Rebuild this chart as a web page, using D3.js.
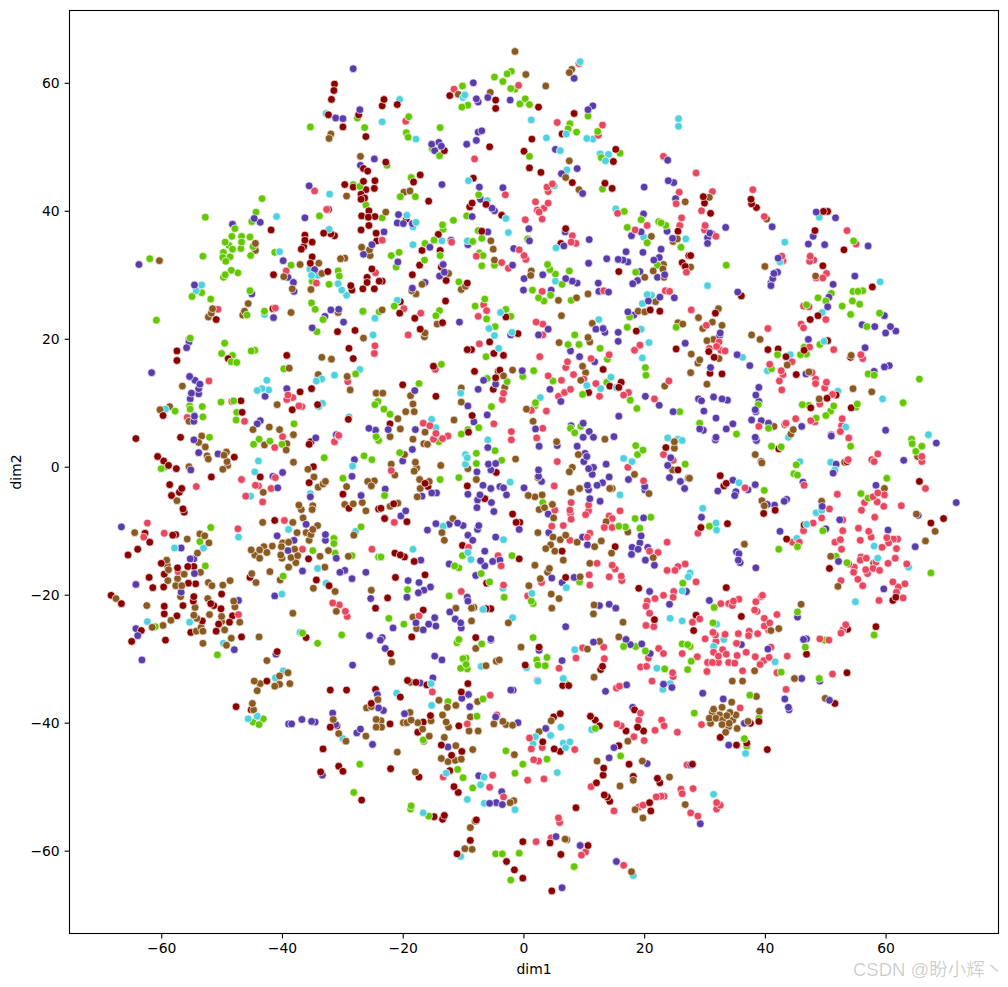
<!DOCTYPE html>
<html><head><meta charset="utf-8">
<script src="https://cdn.jsdelivr.net/npm/d3@7"></script>
<style>html,body{margin:0;padding:0;background:#fff}svg{display:block}</style>
</head><body><div id="chart"></div>
<script>
const xTicks=[-60,-40,-20,0,20,40,60];
const yTicks=[-60,-40,-20,0,20,40,60];
const purple=[[-28.2,62.2],[-27.1,55.8],[-31.1,54.5],[-29.9,54.4],[-24.7,48.1],[-27,47.1],[-35.5,43.9],[-36.2,38.9],[-48.2,37.9],[-44.6,38.8],[-43.6,38.2],[-63.7,31.6],[-39.8,32.2],[-39,29.6],[-38.1,28.8],[-38,27.4],[-54.5,28.4],[-45,27],[-31.9,24.5],[-30.6,24.6],[-41.4,23.3],[-35,21.7],[-29.8,22.6],[-32.9,23.5],[-25.1,34.7],[-26.5,33.2],[-55.4,19.9],[-34.6,30.8],
[-8.3,60],[-7.8,57.5],[-7.5,57],[-5.9,57.7],[-2.2,57.3],[8.4,60.7],[11.5,56.4],[10.7,55.8],[-7.5,52.3],[-6.9,52.5],[-7.8,51],[-9.4,50.4],[-15.2,50.4],[-14,50.7],[-13.6,50.1],[-14.7,49.4],[5.3,49.6],[8.9,46.6],[6.3,45.8],[6.9,45.8],[9.8,42.7],[-13.5,44.1],[-7.3,43.7],[-3.4,43.6],[-7.1,41.8],[-5.2,40.4],[-4.8,40],[-8.5,39.1],[-20.7,39.4],[-20.9,38.1],[-19.9,38],[-18.4,38],[-23.1,36.7],[-5.9,36.7],[.9,37.2],[1,35.3],[-9.2,34.7],[-12,35.4],[-15.5,34.3],[-20.8,32],[-1.6,34.1],[-1.8,31.5],[6.9,36.7],[10.9,35.5],[6.7,34.5],[17,33.6],[10.8,31.8],[13.8,32.5],[15.7,32.4],[16.5,32.3],[17.3,32],[19.8,33.5],[22.8,34],[22.5,32.7],[21.6,32.3],[22.2,29.6],[23.4,30],[19.3,30.5],[18.9,29.1],[18.1,28.6],[19.9,39.5],[20,43.7],[24,44.7],[24.9,44.4],[25.2,41.9],[23.9,47.9],[17.9,36.1],[19.5,36.7],[23.8,36.8],[24.7,35.7],[.1,29.4],[3.2,30],[7,29.4],[8.1,29],[8.9,28.7],[12.4,28.7],[12.5,27.4],[14.1,27.3],[0,27.6],[4.6,27.6],[22.6,26.5],[25,26.4],[20.7,25.9],[17.3,24.2],[18.3,23.7],[-10.6,22.6],[-16.3,28.8],[-13.9,29.8],[-13.1,30.4],[-13.3,31.6],[-18.4,27.9],[13.5,21],[12,21.5],[13.2,21.6],[15.7,21],[-2.1,20.6],[4.1,21.5],[2.5,20.6],
[48.5,39.8],[51.7,38.9],[33.5,37.4],[30.9,36.5],[30.5,35.8],[30.5,34.9],[41.2,37.5],[48,36],[47.2,34.8],[49.9,34.7],[57.1,34.5],[42.2,32.6],[42.1,30.4],[41.5,30.2],[41.3,29.4],[41,28.7],[41,28.3],[35.5,27.3],[54.9,29.8],[51.3,28.5],[50.6,26.5],[50.4,25],[59.8,23.6],[56.1,22.2],[58.2,21.9],[60,20.9],[60.8,21.9],[61.7,21.2],[47.2,19.9],[56.6,18.6],[35.4,17.5],[37.5,15.8],[31,15.5],[32.5,20.5],[32.6,20.9],[46.8,14.5],[58.1,14.9],[59.8,15.6],[60.6,15.8],[39,12.4],[38.5,11.2],[39,10.2],[38.4,8.9],[38.5,8.6],[31.5,10.9],[32.9,10.6],[33.8,10.4],[29.5,10.3],[29,10.6],[29.9,8.7],[31.9,7.6],[33.6,5.9],[34.7,6.7],[37.8,7.3],[39.4,7.2],[40.6,6.8],[46.1,6.3],[29.8,5.7],[29.2,5.9],[31.9,4.6],[38.4,4.6],[51,4.8],[60,5.7],
[-55.8,18.6],[-55.4,19.5],[-61.6,14.7],[-55.3,14.1],[-54.4,13.5],[-53.6,12.9],[-53.8,12.2],[-53.8,11.4],[-55,11.5],[-55.2,10.6],[-54.5,7.9],[-54.6,7.1],[-43.6,7.2],[-44.1,6.7],[-39.2,12.2],[-42.8,11],[-34.4,4.5],[-31,5],[-54.6,4.2],[-53.8,2.2],[-50.6,2],[-55.1,-.5],[-39.9,-.9],[-41.5,-1.5],[-40.7,-3.3],[-35.3,-4.7],[-26.9,-4.5],[-28,1.1],[-28.4,-1.5],[-25.6,6],[-24.5,5.7],[-66.6,-9.4],[-36,-9],[-40.8,-10.8],[-32.8,-10.6],[-32.8,-11.5],[-56.7,-12.7],[-55.2,-14.4],[-54.6,-14.4],[-54.5,-16.7],[-31,-14.3],[-36.6,-16.3],[-30.4,-16.5],[-29.6,-16.2],[-28.4,-17.5],[-26.1,-16.5],[-64.2,-18.4],[-56.7,-19.6],[-47.2,-20.9],[-41.2,-20.2],[-25.3,-20.6],[-64.2,-25.3],[-63.9,-26.4],[-25.5,-26.4],[-38,-11.5],[-39,-13.1],[-63.2,-30.2],
[15.7,19.6],[26.8,19.3],[7.8,18.1],[9.3,17.2],[11.8,16.4],[-.2,15],[-6.6,13.5],[-4.6,12.9],[-7.5,12.1],[-18,11.9],[4.4,12.1],[6.2,10.2],[20.2,11],[22.5,9.6],[24.8,8.6],[15.8,7.9],[-9.2,9.5],[-6,8.1],[-8.2,7],[-22.4,5.8],[-17.9,5.8],[7.9,6.4],[9.9,6.8],[10.9,5.5],[11.6,4.6],[9.9,4.6],[2,5.9],[2.6,3.2],[5.6,3.3],[15,4.7],[8.9,3.2],[-5.9,3],[-18.4,2.7],[-20,.9],[10.2,2.1],[10.5,1.6],[10,.8],[10.8,-.3],[11.6,-.1],[11.4,-1.2],[13.7,.4],[-5.8,.4],[-4.6,.5],[-7.7,-.8],[-5.4,-.5],[2.5,-.5],[2.5,-1.5],[3,-2.3],[14.2,-1.6],[13.1,-2.5],[12.2,-2.9],[10.6,-2.9],[10.8,-3.6],[11,-5],[12.7,-5.4],[17.4,-2],[20.1,-3.1],[20.1,-3.6],[23.9,.2],[24.4,1.4],[24.2,-1.7],[26,-2.3],[26.7,-3.4],[-6.7,-2.9],[-5.4,-3.4],[-3.9,-3.1],[-3.3,-3.3],[-2.8,-4.4],[-9.2,-4.3],[-7.2,-4.4],[-7.6,-5.2],[-7.7,-6.4],[-5.3,-5.6],[-4.9,-7],[.1,-3.3],[-22.9,-3.5],[-16.8,-4.6],[-15.2,-4.1],[-14.4,-4.1],[-19.5,-6.9],[-20.3,-7.7],[-23,-8],[-14.5,-8.9],[-12.3,-9],[-10.9,-8.8],[-10,-9.2],[-15.9,-9.9],[-7.4,-9.2],[-7.6,-9.8],[-9.2,-10.7],[-8.4,-11.5],[-4.6,-11],[-.7,-9.8],[4.1,-7.4],[4.2,-10.3],[9.8,-11],[10.6,-12.2],[19.5,-10.8],[19.3,-11.9],[18,-12.6],[19,-12.9],[17.9,-13.7],[20.6,-12.6],[20.2,-14.6],[21.7,-15.4],[19.9,-8],[-6.4,-13.2],[-7.1,-14.7],[-5.1,-14.8],[-3.9,-14.6],[-6.4,-15.5],[-7.9,-17],[-12.3,-15.2],[-17,-14.6],[-19.1,-17.8],[-17.3,-18.1],[-16.5,-19.3],[-15.4,-18.8],[-17.4,-19.7],[-19.3,-20.4],[-9.3,-20.4],[-9.2,-21],[-12.2,-22.7],[-11.3,-23.8],[-10.4,-24.4],[-10.3,-25.2],[-14.7,-23.6],[-15.7,-24.6],[-14.5,-24.9],[-16.6,-25.5],[-21.6,-25.2],[-17.8,-24.4],[7,-25],[4.7,-17.4],[8.4,-17.3],[6.4,-18.1],[12.6,-21.7],[14.2,-21.5],[15.3,-22.1],[24.2,-21.5],[20.9,-19.5],[27,-19.5],[-5.4,-26.9],[17,-27],[-23.4,-26.7],
[68.4,3.7],[63,1],[51.3,-1],[51.8,.4],[58.4,-2.9],[34.7,-2.1],[32.2,-3.8],[35,-4.5],[35.2,-3.9],[37.2,-3.6],[38.4,-2.8],[40.4,-5.9],[41.6,-6],[43.2,-5.4],[43.6,-5.1],[49.5,-6.2],[52.4,-8.3],[71.7,-5.6],[29.5,-7.9],[42.5,-10.1],[50.1,-9.7],[60.4,-9.9],[64.9,-12.5],[65.4,-7.6],[35.7,-13.6],[35.3,-13.3],[35.6,-14.6],[35.9,-15],[38.5,-15.8],[52.2,-14.8],[59.7,-19.1],[30.8,-20.9],[45.4,-23.5],[46.9,-26.9],[46.4,-27],[36.1,-27.8],[40.5,-28.5],[46.1,-33.1],[49.1,-33.5],[29.7,-35.4],[33.1,-36.3],[43.3,-36.3],[43.9,-37.6],[44,-38],[50.7,-36.5],[36.6,-40.1],[31.8,4.2],[38.6,4.1],[46.3,-2.4],
[-47.9,-28.6],[-22.9,-28.4],[-23.7,-27.1],[-14.7,-29.6],[-13.5,-30.2],[-28.3,-31],[-41,-29.3],[-5.4,-27.1],[-15,-33],[-17.1,-33.8],[-9.1,-35.6],[-10.2,-36.2],[-8.9,-37.5],[-2.1,-34.9],[-38.4,-40.2],[-38.9,-40.2],[-36.7,-39.5],[-35.1,-39.8],[-34.5,-39.9],[-31.6,-38.5],[-31.1,-40.3],[-27,-41],[-27.6,-41.6],[-25,-43.4],[-24.2,-35.6],[-24,-37.7],[-23.2,-38.1],[-19.7,-38.6],[-12.5,-43.8],[-4.6,-39.1],[-7.4,-48.3],[-3.6,-50.8],[-5.6,-52.6],[-4.5,-52.5],[-3.5,-52.8],[-33.3,-48.2],
[6.4,-30.3],[-1.7,-34.9],[13.6,-35.1],[17.1,-34.1],[11.6,-27.4],[17.7,-27.8],[19.6,-27.7],[-.9,-40],[3.7,-40.9],[21,-29.2],[24.6,-34.5],[23.2,-34],[34,-43.5],[15,-43.9],[14.2,-45.5],[18.1,-37.6],[20.5,-46.4],[27.7,-46.6],[29.3,-55.8],[5.4,-57.8],[9.4,-59.2],[15.4,-61.7],[6.4,-65.8],[2.6,-28.7]];
const darkRed=[[-31.3,59.8],[-31.4,58.8],[-31.8,57.4],[-32.3,55],[-27.3,55],[-29.9,53.1],[-26.1,51.6],[-26.5,46.6],[-25.8,46.2],[-29.6,44.1],[-28.2,43.7],[-26.5,44.6],[-24.6,44.7],[-26.1,43.3],[-24.7,43.5],[-26.9,42.6],[-26.9,41.8],[-26.3,42],[-32.3,40.2],[-25.6,40],[-26.8,39.2],[-25.7,39],[-24.6,39.1],[-25.6,37.7],[-26.9,37],[-24.4,36.5],[-24.3,35.3],[-41.8,37],[-36.2,36.2],[-33.1,36.5],[-31.9,36.4],[-31.3,36.1],[-36.2,35.4],[-35,35.1],[-36.4,34.4],[-36.8,34],[-35,32.8],[-35.3,31.8],[-32.4,30.5],[-41.4,30],[-25.1,30.9],[-25.9,29.6],[-25.9,28.8],[-28.6,28.3],[-28.4,27.6],[-26.6,27.8],[-24.7,27.8],[-41.5,24.7],[-50.9,23],[-30.8,21.1],[-27.9,21.3],[-23.9,29],
[-12.2,58],[-4.6,57.3],[-4.6,56],[2.5,56.2],[-23.1,57.4],[-23.4,56.4],[-20.9,56.6],[8.4,55.2],[6.4,52],[1.4,51.2],[-5.6,50],[15.3,49.6],[14.9,47.7],[.1,49.3],[-13.1,49.4],[-22.8,47.6],[1,46.7],[2.9,46],[-17.1,45.6],[-18.2,44.5],[8.1,44.4],[-8.3,45.1],[13.5,44.3],[14.7,43.5],[-15.7,41.5],[-8.5,41.2],[-8.9,40.6],[-6.2,41],[-3.6,39.3],[-19.4,38.7],[7,37.2],[6.2,34.9],[-6.9,36.8],[-14.1,36.3],[-16.8,33.8],[-13.8,33.8],[-17.2,31.5],[-13.6,31.2],[-18.4,30],[-12.8,29.1],[-9.3,28.7],[-23.4,29],[15.8,30.5],[-12.9,25.9],[-20.4,25.8],[-20.5,24],[-18,23.2],[-13.4,22.5],[-17.1,21.5],[-2.9,23.4],[-.9,20.8],[18.7,21.2],[22.6,24.3],[21,24.5],[25.6,36.8],[26.3,31.9],[26.8,31.3],[27.4,33],
[29.8,42.2],[30,41.2],[31,39.6],[37.7,41.8],[37.8,41.1],[38.6,40.5],[49.7,39.9],[50.4,39.9],[48.3,36.9],[53.1,33.9],[31.3,36.3],[27.7,33],[49.6,31.4],[36.1,26.7],[57.8,28.1],[31.8,24],[48.8,23.6],[47.5,23],[40.5,18.3],[42.2,18.4],[43.5,17.2],[46.5,18.2],[50.4,19.7],[54.2,17.1],[30.7,18],[31.6,17.1],[30.9,14.6],[32.9,14.5],[45.2,14.4],[50.3,10.7],[47.6,9.2],[54.3,9.2],[51.8,11.2],
[-57.4,18.1],[-57.4,16.6],[-39.2,17.4],[-48.9,16.9],[-28.9,18.5],[-28.2,16.9],[-37,11.7],[-35.1,12.2],[-46.8,10.3],[-34.1,9.7],[-38.3,8.9],[-46.6,8.5],[-59.7,8],[-29,7.4],[-64.2,4.4],[-56.8,4.6],[-35.2,3.9],[-35.5,3.5],[-60.6,1.6],[-59.6,.9],[-58.8,.2],[-57.5,-.3],[-47.9,1.5],[-34.8,0],[-51.7,-1.6],[-43.6,-1.6],[-35.5,-2.5],[-58.6,-2.8],[-56.6,-3.4],[-57,-4],[-58.3,-4.5],[-56.4,-6.6],[-56.2,-7.1],[-29.9,-4.3],[-28.9,-6.5],[-24,-6.6],[-41.2,-8.4],[-62.7,-10.4],[-61.9,-11.8],[-58.1,-10.7],[-57.6,-10.6],[-63.9,-12.9],[-65.5,-13.8],[-60,-15.1],[-57.3,-15.8],[-59.5,-16.8],[-55.6,-15.6],[-54.6,-15.6],[-62,-17.3],[-61.4,-18.9],[-59.6,-18.8],[-55.5,-18.2],[-54.3,-18.3],[-68.3,-20.1],[-66.6,-21.4],[-50,-19.9],[-54.6,-20.3],[-54.7,-21],[-56.4,-21.7],[-59.5,-21.8],[-59.5,-23],[-57.4,-23.3],[-51.8,-21.4],[-51.3,-21.7],[-50.1,-22.2],[-53.2,-24.1],[-50.5,-24.6],[-48.7,-24.3],[-50.9,-25.7],[-55.1,-25.9],[-63.3,-25.6],[-59.3,-27.1],[-46.7,-26.6],[-48.2,-23.3],[-45.3,-17.3],[-35.6,-14.4],[-34.3,-17.7],[-32.2,-18.6],[-24.5,-22.1],[-36,-26.7],[-64.9,-27.3],
[-9.3,18.3],[-8.6,18.3],[-5.6,19.5],[-4.9,17.7],[-3.3,17.4],[-14.9,15.7],[-8.1,14.9],[-4.6,13.9],[-3.9,15.1],[-5,12.1],[-20,12.8],[-14.5,11],[13.2,15.2],[14.3,12.6],[16.2,13.2],[15.8,12.4],[10.8,11.6],[25.3,18.4],[-8.5,8],[-22.1,6.7],[-9.1,5.4],[23.6,3],[-4.5,-.9],[-9.3,-3],[-15.8,-3.1],[-16.3,-2.6],[-6.4,-5],[-1.8,-7.4],[-1.2,-8.7],[-.6,-8.7],[-21.5,-5.8],[-23.6,-6.5],[-23,-8.1],[-19.3,-8.6],[-10.1,-12.3],[-21.3,-13.5],[-20.4,-13.8],[-19.7,-14.1],[-18.1,-14.8],[-.7,-14.4],[6.4,-13.2],[15.2,-12.5],[-21.2,-17.3],[-16.3,-16.9],[7,-17.3],[19.1,-19],[-22.5,-20.5],[-6.2,-22.2],[-5.4,-22.2],[-16.6,-22.4],[21.7,-23.9],[-18.5,-26.6],[-7.9,-26.7],[-6.1,-18.2],[25.6,-.5],
[42.3,2.8],[39.4,.8],[53.6,.8],[65.6,-2.3],[32.6,-1.4],[33.6,-2.6],[33.2,-3],[41.7,-6.8],[39.8,-7.3],[33.8,-8.9],[29.4,-9.5],[67.5,-8.8],[69.6,-8.1],[46.5,-9.1],[43.6,-11.3],[50.7,-15.9],[33.6,-18.9],[61.7,-20.4],[61.2,-20.9],[36.1,-23.4],[28.6,-23.2],[28.2,-25.6],[53.7,-25.4],[58.4,-25],[46.9,-29.3],[53.6,-32.2],[51.6,-37],[37.6,-40.1],[39,-39.8],[32.6,-42.3],
[-40.8,-28.9],[-22,-29.2],[-42.5,-33.5],[-32,-34.9],[-29.3,-34.9],[-24.5,-34.8],[-20.4,-36],[-19.2,-33.4],[-17.8,-33.7],[-16,-34.1],[-9.2,-33.9],[-10.3,-35.2],[-47.6,-37.5],[-45.1,-38],[-25.2,-37],[-30.9,-40.5],[-32,-40.7],[-22.1,-40.2],[-16.6,-39.9],[-17.5,-41.5],[-15.4,-38.9],[-10.7,-40.5],[-13.6,-43.5],[-10.2,-44.5],[-11.9,-45.1],[-12.2,-47.5],[-33.2,-44.1],[-33.6,-47.7],[-30.6,-46.8],[-29.9,-47.6],[-22,-47.2],[-17.3,-48.5],[-11.5,-50],[-10.8,-50.9],[-26.8,-52.1],[-14.8,-54.7],[-13.4,-55.1],[-13.1,-54.5],[-7.8,-55.2],[-8.8,-58.4],[-11,-60.5],[-2.8,-61.7],
[2.6,-28.2],[.3,-31],[6.5,-34.2],[7.5,-34.2],[13.1,-31.2],[12.8,-31.7],[6.1,-38.6],[5,-39.1],[3.2,-43],[5.1,-44.1],[6.1,-44.5],[11.1,-39],[11.9,-39.6],[12.6,-40.5],[18.4,-38],[17,-41.3],[18.9,-40.7],[19.9,-41.3],[15.8,-43.6],[13.3,-47.1],[13.2,-48.2],[12.1,-49.4],[17.5,-46.5],[18.2,-48.4],[22.2,-48.7],[22.6,-49.4],[13.4,-51.3],[13.9,-51.6],[14.3,-52.3],[20.9,-52.5],[21.1,-53.8],[8.7,-53.3],[28,-46.5],[35.3,-43.5],[40.4,-44.2],[37,-43.2],[-.1,-58.6],[4.4,-58.8],[10.7,-59.2],[6.2,-60.6],[-1.5,-63],[-.1,-64.3],[4.7,-66.3]];
const green=[[-35.3,53.1],[-26.3,53],[-27.5,54.5],[-43.3,41.9],[-52.7,39],[-44.3,39.8],[-33.8,39.2],[-45,38.3],[-47.8,37.2],[-48.3,36],[-46.7,36],[-45.3,35.9],[-49.4,35.1],[-48.8,34.6],[-46.7,35.1],[-44.8,34.4],[-48.2,34],[-46.8,34.1],[-49.7,33.5],[-48.6,32.8],[-49.8,32.7],[-49.3,32.1],[-45.2,33],[-53.1,32.9],[-61.9,32.5],[-41.2,33.5],[-38.5,31.5],[-48.4,30.7],[-47.3,30.3],[-49.4,30],[-49.7,29.6],[-30.7,30.6],[-30.5,29.8],[-35,29],[-32.2,28.5],[-45.3,27.5],[-53.3,27.2],[-54.9,26.6],[-51.8,26.2],[-35.1,25.6],[-34.5,24.6],[-42.9,24.3],[-45.8,23.7],[-33.2,23],[-60.8,22.9],[-34.2,21.1],[-26.6,24.3],[-28.2,44.1],[-27.1,43.8],[-26.1,40.9],[-55.2,20.1],[-23.9,24.2],
[-10.1,59.5],[-10.2,56.2],[-9.2,56.5],[-4.8,60.9],[-2.7,61.4],[-2,61.8],[-3.4,60.2],[-2.1,59.1],[-1.4,59],[.3,57.5],[-.6,56.7],[1,56.6],[-19,54.7],[-19.4,52.2],[-19.1,51.5],[-13.8,53],[-15.1,49.7],[-13.9,48.6],[-22.6,47.1],[1,48.5],[10.7,54.8],[7.7,53.6],[7.4,52.8],[8.8,52.3],[12.3,52.4],[12.9,48.3],[16,49],[-18.6,45.2],[-20.4,42.2],[-17.9,42.2],[-7.4,42.5],[13.1,43.4],[-9.4,39.2],[-23.4,38.9],[16.7,39.9],[-11.6,38.5],[-13.4,37.8],[-13.3,37.1],[-14.8,35.4],[-16.3,34.9],[-13.8,33],[-16.4,32.3],[-20.6,33.5],[-21.9,33],[-21.1,31.2],[-8.4,35.2],[-6.9,35.7],[-7.3,33.4],[-6.7,33],[-6.9,31.4],[-4.8,31.5],[-7.5,36.9],[.7,35.6],[4,31.6],[4.4,30.8],[5.3,30.1],[6.4,28.5],[7.6,30.6],[1.5,27.6],[2.5,26.4],[3.4,25.9],[4.5,26.8],[7.9,26],[-10.7,28.9],[-8,25.1],[-6.4,26.2],[-6.1,23.1],[-2.9,24.6],[-2.1,23.5],[-4.7,21.9],[-14.5,23.6],[-13.9,24.4],[-21.4,25.1],[8.5,20.6],[17.2,37.4],[19.5,38.6],[22.4,38.3],[22.8,38.1],[23.6,37.7],[20.5,35],[26.1,34.3],[22.2,31.5],[18.6,30.4],[17.6,23.4],[17.2,21.8],[25.3,21.8],
[33.6,31.5],[54.7,35.3],[48.8,26.4],[51,27.1],[50.1,25.9],[54.6,27.4],[55.4,27.4],[56.2,27.5],[54.5,25.9],[55.7,25.4],[52.8,25.1],[54.2,23.8],[59,24],[56.9,21.9],[46.9,25.3],[46.5,18.7],[49.1,19.1],[42.1,17.5],[45.9,17.5],[46.9,17.6],[41.1,15.3],[57.1,14.5],[58.1,14.3],[65.6,13.7],[62.9,10],[46.2,9.7],[47.3,9.6],[55.3,9.8],[51.4,9.5],[50.9,8.7],[50.1,8],[48.5,7.6],[55.1,9.3],[29.2,6.8],[35.3,5.1],[40.6,6],[38.9,9.7],[64.3,4.3],
[-49.5,19.3],[-50,17.7],[-48.2,17.4],[-45.1,18.1],[-44.5,18.2],[-47.5,16.3],[-48.4,16.4],[-39.7,15.3],[-27.8,14.5],[-50.1,10.1],[-48,10.3],[-55.3,9.5],[-53.2,9.4],[-55.2,9],[-57.7,8.7],[-47.5,8.5],[-47.6,7.3],[-53.1,7.8],[-24.6,9.7],[-24.1,10.2],[-38,6.7],[-52,4.6],[-43.8,4.3],[-44.7,3.5],[-42,4],[-40,3.5],[-24.4,4.7],[-24,4.1],[-59.5,-.1],[-60,-.3],[-33,1.4],[-29.9,-1.8],[-26.4,1.7],[-25.1,1.1],[-26.9,-9.4],[-51.8,-9.5],[-31.4,-11.2],[-31.4,-12],[-53.6,-11.7],[-34.9,-13.1],[-31.2,-13.5],[-28.4,-13.9],[-24,-14.1],[-52.7,-15.5],[-39.8,-17.1],[-61,-25],[-36.6,-26],[-30.1,-26.3],
[-6.2,17.2],[-13.6,16],[-17.3,13],[7.4,19.1],[9.2,19.1],[12.7,18.5],[13.9,16.8],[20.2,15.5],[20.3,14.3],[-.1,14.1],[1.7,15],[4.9,13.4],[-2.7,13.3],[-6,13.8],[13.8,13.2],[9.8,11.3],[17.7,10.4],[18.8,9.1],[25.9,8.6],[1.9,9.5],[2,10],[-5.3,9.4],[-23.1,9],[-22.1,8.2],[-9.2,5.8],[-7.4,6.1],[-10.3,5.1],[-14,3.9],[7.8,6],[9.5,6.3],[8.5,5.3],[-4.7,2.5],[-3.6,1],[-7.8,2.1],[-7.8,.5],[18.6,3.3],[19.8,2.6],[18.9,1.9],[26.8,.4],[-10.7,-1.7],[-13.8,-2],[-20.5,2.2],[-23,-4.5],[3.2,-5.6],[18.5,-8.1],[21.1,-7.9],[15.8,-9.3],[16.9,-9.4],[19.3,-9.6],[-1.9,-13.9],[-10.1,-13.9],[-23.6,-14.1],[-11.4,-15.5],[-10.7,-15.8],[-7,-16.7],[-5.6,-18],[9.3,-18],[-19.2,-19.2],[-3.2,-20.4],[-12.3,-20.2],[1.3,-21],[1.6,-21.4],[-22.3,-23.7],[-19.8,-24.6],[1.6,-26.7],[-10.7,-27],[26.4,-18.2],
[41.1,3.2],[42.7,3.1],[54.2,3.2],[64.4,3.6],[66,3.2],[65,2.4],[45.2,.3],[44.8,-1.1],[45.4,-1.3],[60.2,-1.8],[39.9,-3.7],[55.9,-4.2],[57.1,-4.9],[30.8,-9.3],[49.6,-10],[42.3,-12.9],[45.4,-12.5],[51.8,-14],[53.6,-15],[67.5,-16.6],[31.6,-22],[31.4,-24.4],[45.4,-22.7],[58.1,-26.3],[46.7,-28.2],[49.9,-27.1],[27.8,-30.4],[42.7,-32.1],[49,-33.1],[37.5,-35.7],[39,-39.3],[28.3,-38.5],[36.6,-42.5],[27.6,-28.1],
[-50.7,-29.4],[-34.1,-27.6],[-11,-27.5],[-6.9,-27.7],[-9.5,-29.9],[-9.5,-30.9],[-10.4,-31.5],[-9.3,-31.6],[-10,-30],[-43.1,-39.4],[-44.8,-39.9],[-43.8,-40.3],[-12.5,-36.7],[-6.7,-36.3],[-7.7,-39],[-16.6,-42.7],[-2.9,-44.4],[-27.1,-46.5],[-10.9,-47.3],[-10,-48.6],[-8.4,-50.2],[-28.1,-50.9],[-18.6,-53],[-18.7,-53.5],[-15.7,-54.6],[-4.6,-60.5],[-3.5,-60.5],
[3.9,-29.8],[2.2,-30.2],[2.4,-31],[3.6,-31.1],[7.1,-33.9],[16.6,-28.1],[18.6,-28.1],[20.2,-28.8],[23.4,-31.6],[26.3,-27.7],[27.2,-27.8],[27.2,-31.7],[11.9,-40.9],[16.1,-45.2],[37,-43.7],[-.1,-46.5],[-1.4,-47.9],[3.9,-45.7],[-.7,-60.4],[8.4,-62.5],[-2.1,-64.6]];
const cyan=[[-32.7,55.2],[-32.1,42.6],[-40.9,39.1],[-32.2,37.1],[-40.4,33.6],[-35.4,30.9],[-35.1,29.9],[-34.1,29.9],[-30.7,28.6],[-30.1,27.6],[-29.3,26.8],[-53.3,28.4],[-54.2,27.5],[-42.9,23.8],[-24.6,23.2],[-24.9,20.6],
[-9.7,58.1],[-10,57.7],[-20.5,57.4],[-23.4,53.9],[-17.8,51.2],[9.4,63.3],[1.3,54.2],[3.8,51.4],[7.1,52],[10.5,51.3],[11.5,51.2],[25.7,54.4],[25.7,53.2],[6.1,49.4],[12.7,48.9],[14.1,48.8],[13.6,47.8],[7.2,46.4],[5.1,43.9],[-9.1,44.7],[-6,41.6],[-2.9,38.8],[15.3,40.3],[-19.3,39.3],[-17.8,38.2],[-18.3,37.5],[-2.5,36.6],[-9.3,35.3],[-13.5,35.3],[-18.3,34.7],[5.4,34.2],[19.9,35.9],[26.9,35.6],[5.3,29],[20.5,26.9],[21.2,26.8],[19.7,25.5],[-3.8,24.1],[-20.9,26],[-5.7,21.6],[-4.8,20.5],[-1.9,21],[12.5,23],[19.5,21.5],
[49,39],[43.3,35.1],[42.5,32],[30.5,28.3],[59.1,28.9],[49.5,24.1],[49.8,19.6],[36.3,17.1],[44.2,17.5],[40.4,15],[52.1,11.8],[59.5,10.6],[67.1,5],[43.9,4.6],[53.4,6.2],
[-42.5,13.5],[-44.1,11.9],[-43.3,12.2],[-42.2,12],[-34.3,13.4],[-33.4,13.7],[-31.3,14.3],[-27.1,15.2],[-33.3,9.9],[-33.9,9.4],[-59.3,9],[-54.6,8.1],[-43.9,.9],[-44.5,-.8],[-45.2,-4.6],[-28.3,.1],[-35.3,-4.2],[-47.2,-11],[-57.8,-12.7],[-53,-12.7],[-38.9,-9.8],[-27.8,-10.1],[-34.1,-15.9],[-32.7,-18.2],[-40,-19.9],[-62.3,-24.2],[-55.3,-24.3],[-37,-25.9],[-30.6,4.7],[-28.9,7.8],
[-4.1,18.5],[20.8,19.4],[19.7,17],[14.5,14],[12.8,12.2],[10.5,12.7],[15.4,12.4],[2.8,10.8],[-10.4,11.5],[-15.2,7.4],[-14.5,6.1],[-5.9,4.2],[-9.6,1.9],[-9.3,1.4],[-9.6,.4],[16.6,1.3],[18,.8],[23.9,4.5],[25.6,4.3],[26.3,4.1],[-2.2,-2.4],[16,-4.4],[-13.3,-9.3],[-3.3,-11.4],[-18.3,-12.9],[-8.7,-14.5],[-9.2,-13.4],[7.1,-18.9],[1.4,-19.8],[-6.7,-22.3],[-1.8,-23.6],[24.3,-23.7],[26.3,-24.1],[26.3,-19.4],[27.3,-17.2],[-3.4,-19],
[50.9,.7],[51.6,-.5],[45.8,.8],[35.7,-2.5],[29.7,-6.5],[48.5,-7.2],[49.4,-6.8],[31.9,-8.8],[32,-9.9],[46.9,-9],[45.3,-11.2],[58.1,-12.4],[58.7,-14.3],[63.8,-15.7],[55,-21.1],[32,-24.6],[33.2,-27],[31.5,-28.1],[41.7,-30.5],[27.6,-16.6],
[-49.7,-27.6],[-41.1,-33],[-39.8,-31.9],[-7,-31.2],[-15.3,-33.9],[-21,-35.4],[-15.2,-37.3],[-45.6,-39.4],[-44.1,-39],[-29.9,-42.5],[-6.5,-48.5],[-7.1,-49.7],[-12.8,-47.9],[-9.3,-52],[-6.5,-52.6],[-16.6,-54.1],[-10.4,-60.9],
[.5,-31.4],[2.4,-33.5],[6.6,-33.1],[8.5,-28.6],[4.5,-42],[2,-42.2],[6.2,-40.7],[6.6,-43.2],[7.7,-43],[7,-43.9],[1.6,-43.3],[5.6,-47.8],[11.3,-41.1],[22.1,-31.5],[23.1,-34.8],[24.3,-33.9],[31.5,-51.2],[36.8,-44.8],[18.2,-63.9],[-1.4,-53.6]];
const brown=[[-31.9,52],[-32.2,51.3],[-27,48.5],[-29.3,42.3],[-44.4,34.9],[-44.4,33.8],[-37,31.6],[-33.9,31.8],[-30.3,32.5],[-29.6,32.6],[-60.3,32.2],[-39.7,29.7],[-33.4,30.2],[-35.2,27.7],[-38.3,27.8],[-45.6,25.5],[-51.5,24.7],[-51.7,24],[-52.2,23.4],[-46.2,24.3],[-46.5,23.7],[-38.5,24.1],[-30.7,24.1],[-26.6,24.2],[-26.8,34.3],[-25.5,33.9],[-25.4,33],[-26.5,20.1],
[-1.4,64.9],[.4,61.3],[3.7,59.5],[8,62.1],[7.6,61.6],[-10.8,58.2],[-5.5,58.5],[-18.8,43.1],[-19.8,42.9],[5.8,26],[6.3,23.6],[7.6,47.8],[7,45.2],[9.2,43.3],[-22.8,39.8],[21.2,36],[24.8,35.2],[25.5,35.6],[-5.4,35.3],[-5,34],[-4.8,32.3],[1.3,30.6],[1.2,29.9],[21.5,30.6],[23.2,31.6],[23.1,30.9],[23.3,29.6],[20.1,29.6],[-12.4,30.2],[-10.3,27.7],[-9.6,28.2],[-18.5,27.5],[-17.8,27],[-16.8,28.5],[10.7,27],[8.8,26.4],[-23.4,24.5],[-14.3,22.3],[-16.3,20.9],[-16.4,20.3],[11.4,22.4],[10.7,20.2],[19,24.3],[20.1,24.2],[21.9,25.8],[25.6,22.5],[26.4,22.3],[26.8,41.4],
[30.8,42.1],[40.3,38.7],[40,31.3],[48.4,29.8],[27.7,31.2],[32.3,24.7],[29,23.3],[31.3,22.6],[32.9,22.1],[29.7,21.6],[37.8,20.6],[39.2,19.9],[30.4,19.7],[31.5,19.9],[27.8,17.6],[32.4,16.9],[29.2,16.7],[28.9,16.2],[27.7,14.7],[43.7,15.9],[30.4,12.9],[47.3,14.8],[49,10.6],[54.6,12.2],[57.7,11.7],[41.5,6.3],[43.3,6.6],[44.7,5.8],[44.3,5.1],[54.3,17.4],
[-33.4,17.1],[-31.8,16.8],[-38.8,15.4],[-34,14.4],[-29.2,14.1],[-28.7,12],[-56.5,12.6],[-40.8,9.7],[-24.4,11.5],[-58.6,9.4],[-60.2,8.9],[-55.4,7.1],[-44.8,5.8],[-42.1,6.2],[-40.4,5.8],[-38.1,5],[-42.9,3.4],[-39.2,3.6],[-39.3,2.6],[-53.3,4.8],[-53.8,3.8],[-52.7,3.1],[-52.4,1.7],[-52.2,1.2],[-49.2,2.3],[-49.6,1.8],[-49.1,.8],[-49,.2],[-49.8,-.4],[-55.4,0],[-38.1,.7],[-35.7,-.4],[-34.7,-1.6],[-32.8,-2.3],[-33.2,-2.7],[-34,-3.2],[-25.8,-2.3],[-24.7,-2.2],[-25.2,-3],[-29.3,-3.1],[-29.6,-5.9],[-28.2,-5.8],[-26.7,-5.6],[-26.1,-6.9],[-43.1,-4],[-57.4,-5.3],[-37.2,-6],[-36.8,-6.7],[-34.9,-6.1],[-35,-6.7],[-36.5,-8],[-43.2,-8.7],[-38.2,-8.7],[-34.1,-9.2],[-64.4,-10.3],[-55.7,-11.3],[-53.6,-10.5],[-52.8,-10.8],[-52.1,-11.9],[-54,-13.5],[-37.5,-10.3],[-36,-10.3],[-34.9,-9.8],[-35.2,-10.6],[-35.5,-11.5],[-28.1,-10.7],[-39.9,-11.9],[-38.9,-11.8],[-41.6,-12.4],[-43,-12.5],[-43.7,-13],[-45.1,-13],[-44.5,-13.8],[-42.5,-13.4],[-43.7,-14.3],[-40.1,-12.5],[-40.2,-13.8],[-40,-14.3],[-38.5,-14.2],[-37.9,-12.9],[-37.4,-13.9],[-37.7,-15],[-38.9,-15.7],[-32.3,-13.1],[-33.7,-14],[-32.9,-15.7],[-29,-14],[-42,-16.4],[-45,-16.7],[-44.3,-18.1],[-40.3,-17.7],[-34.8,-19],[-31.2,-19.5],[-25.2,-19.3],[-59.1,-14.6],[-59,-15.4],[-58.8,-16.1],[-58.9,-17.8],[-57.3,-17.5],[-56.2,-16.8],[-57.6,-18.6],[-56.6,-18.6],[-53.5,-16.5],[-52.2,-18.1],[-51.6,-18.6],[-49.8,-18.5],[-48.6,-17.8],[-56.8,-20.3],[-52.3,-20.6],[-48,-21],[-47.8,-21.9],[-54.4,-22],[-62.4,-21.7],[-67.5,-20.6],[-54.6,-23.2],[-54.1,-23.7],[-58.4,-24],[-52,-23.1],[-50,-23.4],[-50,-24.2],[-47,-24.3],[-59.7,-24.8],[-61.5,-25.1],[-53.4,-25.1],[-54.2,-25.7],[-53.1,-25.7],[-49.5,-25.5],[-48.4,-26.8],[-43.8,-26.6],[-38.2,-22.9],[-31,-22.6],
[5.9,19.4],[11,19.5],[-1.8,15.1],[-4.2,14.9],[-3.3,14.2],[9.8,15.7],[10.3,14.7],[9.5,13.5],[23.4,12.6],[-3.1,12.4],[-10.3,12.3],[-10.3,10.1],[-23.3,11.5],[-18.7,11.1],[-18.3,9.8],[-19.5,8.6],[-18.1,8.6],[.5,9],[1.6,7.1],[-20.8,7.5],[-20.4,5.9],[-16.3,5.4],[-22.1,4.7],[-18.3,4.3],[-16.5,3.6],[-15.9,3.5],[-19.7,1.9],[-11.5,7.3],[5.5,3.9],[13.5,4.3],[-13.7,.2],[-17.9,.7],[-17.7,-.2],[-18.1,-.7],[-21.9,.4],[-21.3,-1.3],[-1.3,1.2],[-9.2,-.3],[-7.8,-2],[-17.2,-2],[-17.1,-3.4],[-15.6,-2.3],[-17.6,-4.7],[-20.8,-5.7],[-22.1,-6.2],[9.1,1.9],[7.6,-.8],[8.1,-.1],[2.4,-1.7],[9.3,-3.4],[7.9,-4],[.8,-4.5],[3.1,-4.4],[1.9,-4.7],[4.8,-5.9],[3.5,-6.4],[2.6,-6.7],[5,-8],[13.7,-8.6],[14.3,-3.4],[14.7,-3.4],[18.4,-1.2],[20.8,-4.2],[25,3.9],[25,2.9],[24.7,-.5],[27.3,-1.8],[-11.7,-8.1],[-13.5,-10.3],[-13.1,-11.5],[2.4,-10.3],[4.9,-11],[7,-10.7],[6.1,-11.4],[8.9,-11.8],[11.8,-12.5],[12.9,-11.6],[4.5,-12.2],[3.7,-12.8],[5.2,-13.2],[14.6,-13.5],[6.6,-14.6],[11,-15.1],[1.9,-15.4],[4.3,-15.9],[4,-16.5],[2.8,-17.5],[.9,-18.6],[9.4,-17.2],[4.6,-19.9],[5.9,-20.6],[4.7,-22.1],[11.7,-21.6],[11.6,-23],[16.5,-24.3],[15.8,-26.6],[21.5,-14.2],[17.3,-10.2],[-11.2,-22.1],[-8.6,-22.1],[-8.2,-22],[-8.6,-24.1],[-2.5,-24.4],[-17.7,-25.3],[-18.3,-23.5],
[38.4,1.9],[39.5,.6],[65.3,1.6],[53.2,.7],[27.5,-1.8],[59.8,-3.4],[39.5,-5.3],[39.9,-6.1],[49.4,-5.4],[65.1,-7.4],[68.2,-10.1],[66.6,-11.6],[36.6,-12.1],[50.9,-14],[58,-15.1],[52.1,-18.7],[46,-21.5],[42.3,-25.3],[41,-25.6],[38.3,-31.9],[34.6,-33.5],[36.3,-33.5],[44.9,-33.1],[50,-36.2],[38.6,-35.9],[34.5,-36.8],[39.1,-38.2],
[32.9,-37.6],[31.5,-37.9],[31.3,-38.4],[34.2,-38.4],[35.2,-38.8],[32.5,-38.8],[33,-39.6],[30.8,-39.3],[34.1,-40.1],[31.9,-39.3],[31,-40.1],[32.9,-40.3],[34.7,-39.6],[35.4,-40.9],[33.5,-41.5],[34,-40.6],[33.7,-38.9],[37.2,-39.8],
[-53.1,-27.6],[-49.2,-27.9],[-42.5,-30.3],[-21.8,-30.5],[-7.9,-28.4],[-4.5,-30.4],[-4,-30.2],[-44.6,-33.5],[-43.6,-33.9],[-39,-32.2],[-38.7,-33.9],[-40.4,-32.7],[-41.2,-34.3],[-40.4,-34],[-44.1,-35],[-44.9,-37],[-44.7,-38],[-31.5,-39.5],[-30.6,-41.7],[-29.4,-42.9],[-25.2,-37.5],[-26,-37.7],[-24.1,-36.4],[-24.4,-39.5],[-23.6,-39.7],[-24.4,-40.7],[-23.5,-40.7],[-26.1,-42.1],[-20.9,-44.6],[-19.9,-40],[-19.3,-40],[-18.8,-38.4],[-18.6,-39.6],[-17.5,-40],[-15.3,-39.7],[-16.7,-41],[-15.6,-42.1],[-14,-36.5],[-12.6,-37.6],[-11.2,-37.3],[-13.4,-38.8],[-12.8,-39.9],[-12.4,-40.7],[-7.6,-36.7],[-8.8,-39.1],[-9,-41.3],[-7.5,-41.3],[-4.9,-40.2],[-3.4,-39.8],[-2.9,-40.3],[-13.1,-42.3],[-11.2,-43.6],[-8.4,-44.2],[-13.6,-45.6],[-12.5,-46.1],[-11.3,-45.9],[-10.3,-45.7],[-17.9,-47.7],[-16.5,-42.9],[-8.8,-56.4],[-8,-55.4],[-9.7,-59.7],[-8.5,-59.8],[-18.7,-33.7],[-6.2,-31.1],[-2.2,-52.5],
[-.4,-28.2],[10.6,-28.5],[12.6,-27.3],[11.7,-32.9],[4.6,-39.7],[2.6,-41.4],[-1.8,-40.4],[-1.5,-45],[17.3,-42.9],[12.2,-46],[19.7,-46],[16,-49.9],[18.2,-49],[24.2,-48.5],[26.8,-52.8],[19.8,-54.9],[18.5,-53.6],[6.9,-58.2],[7.2,-58.3],[17.9,-63.3],[-1.6,-52.2]];
const red=[[-34.6,43.1],[-32.6,40.2],[-39.3,30.6],[-34.3,28.7],[-50.6,24.6],[-41.1,24.8],[-24.5,30.3],
[-11.5,59],[-.8,59.6],[9.2,63],[5.6,53.8],[13.1,53.4],[12.4,51.8],[-19.5,54],[-8.1,48.1],[23.2,48.5],[4.8,44.2],[3.9,43.7],[4.1,43],[-3,42.5],[2,41.4],[4.1,41.2],[3.4,40.4],[2.3,40.1],[2.6,39.8],[3.1,38.7],[.3,38.6],[15.6,39.6],[25.8,42.9],[25.3,41.1],[26.2,38.9],[25.9,37.7],[18.5,37],[20.5,37.7],[8.1,36.1],[7.9,35.1],[8.7,34.9],[-.7,33.9],[.1,33],[.4,32.4],[-3.6,31.9],[-2.5,31],[-7.8,32.9],[-11.9,35.1],[-23.4,35.4],[3.1,27.4],[13.3,27.5],[23.5,27.5],[24.2,27.4],[-6.6,25.3],[-6.1,24.4],[-7.5,23.5],[-19.8,24.7],[-17,24],[-19.1,20.6],[2.1,22.6],[3.2,22.3],[3.2,20.6],[27,30.4],
[28.6,45.9],[31.3,43],[29.5,40],[38,43.3],[39.9,39.1],[30.1,37.7],[30,37],[31.9,36],[53.6,36.9],[55.1,34.8],[42.8,32.9],[43,32.2],[47.5,32.9],[47.4,32.1],[48.1,32.3],[50.2,30.2],[48.5,29.5],[49.6,29.5],[27.8,24.5],[46.4,25.1],[47.3,25],[50.1,23],[46,22.3],[46.4,21.7],[40.5,21.6],[30.3,22.1],[32.4,19.5],[32.7,18.2],[32,18.8],[33.4,18.1],[30.8,18.5],[47.4,18.7],[51.4,18.3],[55.9,17.5],[56.2,16.9],[44.5,16.4],[40.8,16],[43,14.4],[42.7,15],[47.8,14.7],[48.4,13.7],[48.4,13],[42.4,13.4],[42.8,12],[50.2,13.2],[49.9,12.3],[51.2,11.3],[49.1,9.8],[45.1,7.5],[47.6,7.2],[48.3,7],[39,6.3],[52.8,7.5],[52.7,6.4],[52.5,5.5],[53.9,4.5],[51,5],[43.5,6.8],
[-52.1,13.4],[-39,11.2],[-39.2,10.5],[-38.2,10.8],[-37.2,9.5],[-36.7,9.4],[-39.9,4.7],[-41.2,3],[-55.7,7.7],[-46.2,7.1],[-48.3,10.2],[-29.1,13.3],[-24.7,17.7],[-24.6,18.9],[-46.7,-2],[-54.2,-3.1],[-43.9,-3],[-44.4,-2.9],[-41.1,-1.7],[-41.8,-3.4],[-46,-4.6],[-43.2,-5.5],[-30.6,4.9],[-31.3,3.9],[-62.3,-8.8],[-62.9,-11],[-59.5,-10.4],[-47.3,-9.7],[-39.6,-8.4],[-36.6,-12.9],[-25.1,-12.9],[-31.6,-21.3],[-30.5,-21.6],[-29.5,-22.6],[-29.2,-23.4],[-47.2,-23.1],[-57.2,-16.4],
[-7.3,19.2],[2.7,17.2],[7.3,16.4],[7,15.5],[11.2,16.9],[14.2,17.5],[18.4,18.2],[19.3,19],[-14.6,15.2],[4.1,14.2],[6.3,13.5],[8.3,14.4],[6.8,11.6],[5.8,11],[7.8,12.1],[12,13],[12.6,11],[10,13.7],[17.4,11.6],[16.6,11.2],[24.1,13.4],[21.7,10.6],[-3.3,11.5],[-3.5,10.5],[3.8,8.7],[1.3,8.8],[-4.9,6.7],[-2,5.5],[-2,4.2],[3.2,6],[2.2,4.5],[-16.6,6.8],[-15.5,6.4],[-14.5,5.2],[-14.9,4.3],[-13.4,4.4],[-12.5,4.8],[5.6,.8],[-21.9,-.6],[5.1,-3],[7.9,-5.6],[7.7,-6.8],[7.8,-7.3],[10.8,-6],[10.8,-6.9],[10.3,-7.5],[5.2,-6.8],[4.7,-9.3],[6.6,-9.2],[7.9,-8.2],[14.2,-7.7],[16,-6.9],[14.7,-8.1],[13.4,-9.5],[14.7,-9.5],[7.7,-11.5],[10.6,-11],[11,-10.4],[-21.4,-8.7],[23.8,-11.8],[22.3,-13.4],[20.9,-13.2],[-9.1,-12.6],[-4.2,-13.9],[-3.7,-15.5],[12.2,-15.1],[14.7,-15.4],[15.2,-16],[10.9,-16.9],[14.2,-17.2],[16.2,-17.1],[16.3,-17.8],[11,-18.5],[3,-18.1],[-3.3,-18.5],[-10.3,-19.5],[.7,-20.2],[23.8,-16.2],[25.1,-16.2],[25.6,-15.6],[26.8,-15.2],[24.9,-19.5],[23.2,-20.1],[21.8,-20.6],[20.5,-21],[24.8,-20.4],[20.3,-21.8],[20.9,-22.9],[20.3,-24.8],[21.6,-25],[-17.3,-23.3],[24.8,1],[23.2,1.9],[19.9,-2.2],[17.3,-.1],
[58.7,2],[58.1,.8],[57.7,1.1],[66,1.6],[66,.8],[53.8,1.1],[66.6,-3.4],[52,-4.3],[58.7,-4.1],[57.9,-4.7],[56.5,-5.6],[56,-6.8],[58.6,-5.5],[59.7,-6.2],[59.8,-4.4],[62.6,-6.1],[58.2,-7.9],[50.7,-6.6],[49.4,-8],[48,-8.8],[46.4,-10],[46.5,-2.9],[52.9,-8.3],[52.9,-10],[55.5,-9.6],[55.8,-11.5],[57.2,-10.1],[57.6,-11],[51.6,-11.8],[52.5,-11.4],[52.7,-12.9],[44.6,-11.8],[45.7,-11.8],[59.4,-12.6],[60.2,-11.1],[61.3,-11.3],[62,-11.3],[60.5,-11.9],[61.8,-12.8],[61.6,-14.3],[60.4,-15.1],[55.9,-14.1],[56.8,-14.3],[55.8,-14.6],[54.8,-15.7],[53.9,-15.2],[54.7,-16.5],[56.7,-16.1],[57,-16.7],[58.4,-14.9],[59,-16.2],[57.9,-15.9],[55.4,-17.6],[56.2,-18.6],[52.6,-17.8],[63.5,-15.2],[61.2,-18],[62.1,-18.8],[63.2,-18.3],[61.8,-19.6],[62.9,-20.5],[58.9,-20.9],[28.9,-10.4],[28.6,-18],[32.7,-21.4],[34,-21.4],[34.6,-21.7],[35.7,-20.7],[34.8,-21],[38.5,-21.1],[39.4,-20.3],[39.6,-20.1],[38.3,-22.4],[38.7,-22.6],[42,-23.1],[39.9,-23.7],[40.8,-24.4],[39.9,-24.9],[40.6,-25.5],[38.8,-26.1],[37.4,-25.7],[37.3,-26.4],[35.6,-26.1],[33.4,-26.2],[31.4,-25.9],[31.8,-26.3],[31.9,-27.3],[30.1,-26.9],[28,-24.3],[29.2,-23.8],[35.3,-27.6],[41,-28.2],[31.5,-29],[33,-28.6],[32.3,-29.6],[33.6,-29.3],[35.4,-29.5],[36.9,-29],[38.4,-29.7],[39.8,-30.3],[39.2,-30.9],[40.7,-29.8],[43.7,-29.6],[28.8,-29.7],[30.5,-30.6],[31.3,-30.6],[32.3,-30.6],[34,-30.6],[35,-30.7],[30.4,-32],[36.3,-31.9],[42,-32.2],[51.2,-32.4],[49.1,-26.9],[50.6,-27.1],[52.6,-26],[53.4,-24.7],[52.9,-25.5],[43.5,-34.8],[35.9,-37.7],[29.5,-40.3],[36.7,-3.3],
[-15.1,-35.2],[-9.3,-40.2],[-5.5,-35.7],[-4.4,-38.8],[-13.3,-48.5],[-5.6,-50.1],[-5.1,-48.2],[-3.3,-51.6],
[5.9,-31.5],[8.7,-29.9],[9.8,-28.3],[13.3,-28.2],[13.4,-30],[15.4,-34.6],[15.9,-34.3],[2.3,-33.4],[22.4,-28.4],[23.2,-29.2],[20.7,-29.9],[19.4,-31.3],[20.4,-31.2],[21.3,-33.5],[24.7,-32.2],[24.8,-32.8],[26.3,-29.2],[19.4,-38.5],[19.1,-39.6],[15.5,-40.2],[16.2,-40.5],[18.3,-42.2],[20,-42.8],[21.8,-41.2],[22.9,-39.6],[23.3,-40.5],[25.5,-41.5],[1.3,-44.1],[1,-42.4],[3.1,-43.9],[8.5,-44.2],[1.7,-45.8],[2.5,-46],[.7,-49],[3.4,-48.8],[11.2,-50],[27.1,-46.6],[26.1,-50.4],[26.3,-51.1],[28.1,-50.3],[22,-51.6],[22.8,-51.5],[23.3,-51.5],[19.8,-52.9],[19.1,-53.2],[15,-53.8],[27.7,-54.1],[28.9,-54.6],[32,-52.5],[32.6,-52.9],[32,-53.5],[5.8,-54.9],[6,-55.6],[2.1,-58.6],[4.6,-58],[10.3,-60.2],[9.6,-60.7],[16.6,-62.3]];

const W=1008,H=987,left=69.5,right=998.5,top0=10.5,bottom=933.5;
const x=d3.scaleLinear().domain([-75.2,78.7]).range([left,right]);
const y=d3.scaleLinear().domain([-72.95,71.3]).range([bottom,top0]);
const svg=d3.select("#chart").append("svg").attr("width",W).attr("height",H);
const seriesList=[["#5a3cad",purple],["#8b0000",darkRed],["#64c800",green],["#4fd2df",cyan],["#8b5a20",brown],["#e8475f",red]];
const all=[];
seriesList.forEach(([c,a])=>a.forEach((d,i)=>all.push({c,d,o:(i*0.618034)%1})));
all.sort((p,q)=>p.o-q.o);
svg.append("g").selectAll("circle").data(all).join("circle")
 .attr("cx",p=>x(p.d[0])).attr("cy",p=>y(p.d[1])).attr("r",3.9)
 .attr("fill",p=>p.c).attr("stroke","#fff").attr("stroke-width",0.67);
const fmt=d=>d<0?"\u2212"+(-d):""+d;
const font="'DejaVu Sans',sans-serif";
const ax=svg.append("g").attr("transform",`translate(0,${bottom})`).call(d3.axisBottom(x).tickValues(xTicks).tickFormat(fmt).tickSize(4.9).tickPadding(4.9));
const ay=svg.append("g").attr("transform",`translate(${left},0)`).call(d3.axisLeft(y).tickValues(yTicks).tickFormat(fmt).tickSize(4.9).tickPadding(4.9));
[ax,ay].forEach(g=>{g.select(".domain").remove();g.selectAll("line").attr("stroke","#000").attr("stroke-width",1.1);g.selectAll("text").attr("fill","#000").style("font-family",font).style("font-size","13.9px");});
svg.append("rect").attr("x",left).attr("y",top0).attr("width",right-left).attr("height",bottom-top0).attr("fill","none").attr("stroke","#000").attr("stroke-width",1.1);
svg.append("text").attr("x",(left+right)/2).attr("y",974).attr("text-anchor","middle").style("font-family",font).style("font-size","13.9px").text("dim1");
svg.append("text").attr("transform",`translate(21,${(top0+bottom)/2}) rotate(-90)`).attr("text-anchor","middle").style("font-family",font).style("font-size","13.9px").text("dim2");
svg.append("text").attr("x",853).attr("y",976).attr("fill","#000").attr("fill-opacity",0.2).style("font-family","'Liberation Sans','Noto Sans CJK SC',sans-serif").style("font-size","18.5px").text("CSDN @盼小辉丶");
</script></body></html>
